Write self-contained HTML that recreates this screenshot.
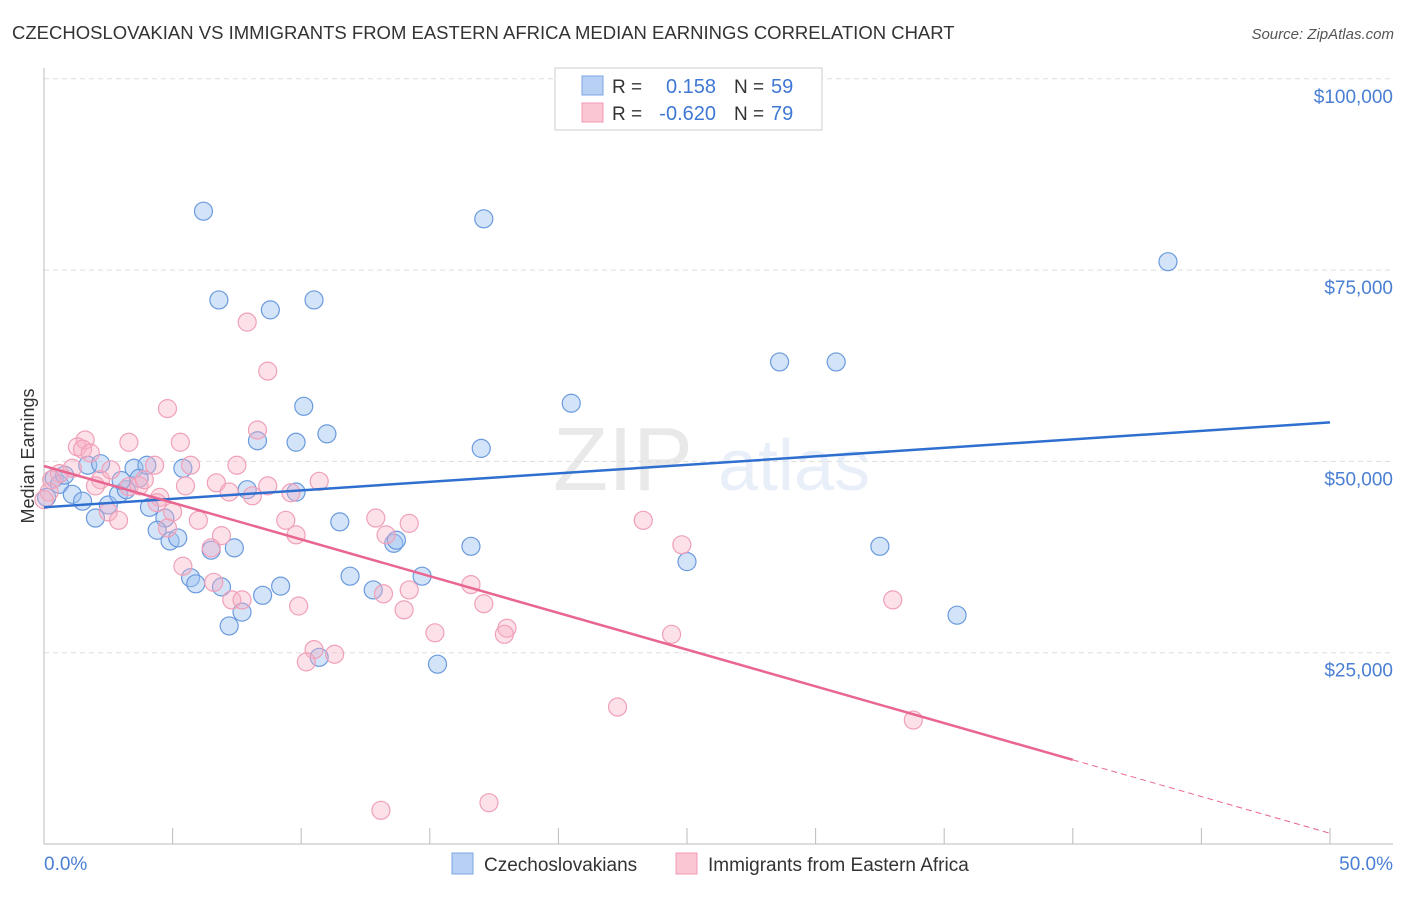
<!DOCTYPE html>
<html><head><meta charset="utf-8"><style>
body{margin:0;background:#fff;font-family:"Liberation Sans",sans-serif}
svg text{font-family:"Liberation Sans",sans-serif}
</style></head><body>
<svg id="c" width="1406" height="892" xmlns="http://www.w3.org/2000/svg">
<text x="12" y="39" font-size="18.5" fill="#333">CZECHOSLOVAKIAN VS IMMIGRANTS FROM EASTERN AFRICA MEDIAN EARNINGS CORRELATION CHART</text>
<text x="1394" y="39" font-size="15" fill="#555" font-style="italic" text-anchor="end">Source: ZipAtlas.com</text>
<g opacity="0.12"><text x="553" y="490" font-size="90" font-family="Liberation Serif" fill="#555">ZIP</text><text x="718" y="490" font-size="72" fill="#4a7fd4">atlas</text></g>
<g id="grid"></g>
<g id="axes"></g>
<g id="pts"></g>
<g id="trend"></g>
<text transform="translate(34,456) rotate(-90)" font-size="18" fill="#333" text-anchor="middle">Median Earnings</text>
<text x="44" y="870" font-size="19" fill="#4a7fd4">0.0%</text>
<text x="1393" y="870" font-size="19" fill="#4a7fd4" text-anchor="end">50.0%</text>
<g>
<rect x="555" y="68" width="267" height="62" fill="#fff" stroke="#ccc"/>
<rect x="582" y="76" width="21" height="19" fill="#b8d0f4" stroke="#7aa5e0"/>
<rect x="582" y="103" width="21" height="19" fill="#fbc6d4" stroke="#f09ab3"/>
<text x="612" y="93" font-size="19" fill="#333">R =</text><text x="716" y="93" font-size="20" fill="#3f78d4" text-anchor="end">0.158</text>
<text x="734" y="93" font-size="19" fill="#333">N =</text><text x="771" y="93" font-size="20" fill="#3f78d4">59</text>
<text x="612" y="120" font-size="19" fill="#333">R =</text><text x="716" y="120" font-size="20" fill="#3f78d4" text-anchor="end">-0.620</text>
<text x="734" y="120" font-size="19" fill="#333">N =</text><text x="771" y="120" font-size="20" fill="#3f78d4">79</text>
</g>
<g>
<rect x="452" y="853" width="21" height="21" fill="#b8d0f4" stroke="#7aa5e0"/>
<text x="484" y="871" font-size="19" fill="#333">Czechoslovakians</text>
<rect x="676" y="853" width="21" height="21" fill="#fbc6d4" stroke="#f09ab3"/>
<text x="708" y="871" font-size="19" fill="#333">Immigrants from Eastern Africa</text>
</g>
</svg>
<script>
const yTicks=[25000,50000,75000,100000];
const yTickLabels=["$25,000","$50,000","$75,000","$100,000"];
const xTicks=[0,5,10,15,20,25,30,35,40,45,50];
const blueX=[6.2,17.1,43.7,6.8,10.5,8.8,28.6,30.8,20.5,10.1,11.0,8.3,9.8,17.0,0.4,0.6,1.1,1.5,1.7,2.2,2.0,2.5,2.9,3.2,3.5,3.7,4.0,4.1,4.7,4.4,4.9,5.2,5.4,5.7,5.9,6.5,6.9,7.2,7.4,7.7,7.9,8.5,9.2,9.8,10.7,11.5,11.9,12.8,13.6,13.7,14.7,15.3,16.6,25.0,32.5,35.5,0.1,0.8,3.0];
const blueY=[82.7,81.7,76.1,71.1,71.1,69.8,63.0,63.0,57.6,57.2,53.6,52.7,52.5,51.7,47.8,47.0,45.7,44.8,49.5,49.7,42.6,44.3,45.7,46.3,49.1,47.8,49.5,44.0,42.6,41.0,39.6,40.0,49.1,34.8,34.0,38.4,33.6,28.5,38.7,30.3,46.3,32.5,33.7,46.0,24.4,42.1,35.0,33.2,39.3,39.7,35.0,23.5,38.9,36.9,38.9,29.9,45.3,48.2,47.5];
const pinkX=[7.9,8.7,4.8,8.3,3.3,5.3,1.6,1.3,1.5,1.8,7.5,5.7,4.3,1.1,0.6,0.3,2.2,2.6,2.0,3.3,3.7,3.9,5.5,6.7,7.2,8.1,8.7,9.6,10.7,4.5,4.4,5.0,2.5,2.9,6.0,9.4,6.9,9.8,4.8,12.9,14.2,13.3,6.5,5.4,6.6,7.3,7.7,9.9,14.2,14.0,13.2,16.6,17.1,18.0,17.9,15.2,10.5,11.3,10.2,23.3,24.8,24.4,33.0,33.8,22.3,13.1,17.3,0.2,0.0];
const pinkY=[68.2,61.8,56.9,54.1,52.5,52.5,52.8,51.9,51.6,51.1,49.5,49.5,49.5,49.1,48.4,47.6,47.6,48.9,46.8,46.7,46.8,47.6,46.8,47.2,46.0,45.5,46.8,45.9,47.4,45.3,44.6,43.4,43.4,42.3,42.3,42.3,40.3,40.4,41.3,42.6,41.9,40.4,38.7,36.3,34.2,31.9,31.9,31.1,33.2,30.6,32.7,33.9,31.4,28.2,27.4,27.6,25.4,24.8,23.8,42.3,39.1,27.4,31.9,16.2,17.9,4.4,5.4,46.0,45.0];
const blueTrend=[44.0,55.1];
const pinkTrend=[49.4,1.4];
const NS="http://www.w3.org/2000/svg";
const sx=p=>44+p*25.72;
const sy=k=>844-k*7.652;
function mk(t,a,parent){const e=document.createElementNS(NS,t);for(const k in a)e.setAttribute(k,a[k]);document.getElementById(parent).appendChild(e);return e;}
yTicks.forEach((v,i)=>{
 const l=mk('line',{x1:44,x2:1393,y1:sy(v/1000),y2:sy(v/1000),stroke:'#ddd','stroke-dasharray':'5,4'},'grid');
 
 
 const t=mk('text',{x:1393,y:sy(v/1000)+24,'font-size':19,fill:'#4a7fd4','text-anchor':'end'},'grid');
 t.textContent=yTickLabels[i];
 
 
});
mk('line',{x1:44,x2:44,y1:68,y2:844,stroke:'#bbb'},'axes');
mk('line',{x1:44,x2:1393,y1:844,y2:844,stroke:'#bbb'},'axes');
xTicks.forEach(p=>{if(p>0){const t=mk('line',{x1:sx(p),x2:sx(p),y1:828,y2:844,stroke:'#bbb'},'axes');
 
 }});
blueX.forEach((x,i)=>{const c=mk('circle',{cx:sx(x),cy:sy(blueY[i]),r:9,fill:'rgba(160,196,240,0.45)',stroke:'#6a9ade','stroke-width':1.2},'pts');
 
 });
pinkX.forEach((x,i)=>{const c=mk('circle',{cx:sx(x),cy:sy(pinkY[i]),r:9,fill:'rgba(246,176,196,0.38)',stroke:'#f0a0b8','stroke-width':1.2},'pts');
 
 });
const bt=mk('line',{x1:sx(0),y1:sy(blueTrend[0]),x2:sx(50),y2:sy(blueTrend[1]),stroke:'#2f6fd0','stroke-width':2.5},'trend');


const pm=pinkTrend[0]+(pinkTrend[1]-pinkTrend[0])*0.8;
const pt=mk('line',{x1:sx(0),y1:sy(pinkTrend[0]),x2:sx(40),y2:sy(pm),stroke:'#e8668f','stroke-width':2.5},'trend');


const pd=mk('line',{x1:sx(40),y1:sy(pm),x2:sx(50),y2:sy(pinkTrend[1]),stroke:'#e8668f','stroke-width':1,'stroke-dasharray':'6,4'},'trend');


</script>
</body></html>
